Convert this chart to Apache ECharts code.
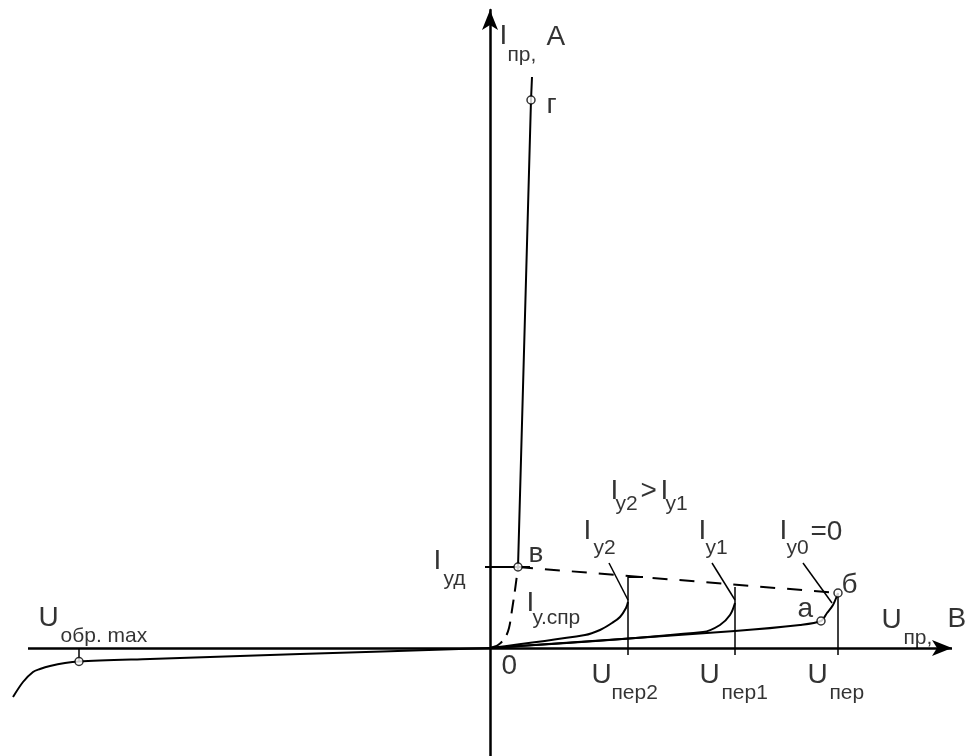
<!DOCTYPE html>
<html>
<head>
<meta charset="utf-8">
<script src="https://cdn.jsdelivr.net/npm/echarts@6/dist/echarts.min.js"></script>
<style>
html, body { margin: 0; padding: 0; background: #fff; }
#chart { width: 967px; height: 756px; }
</style>
</head>
<body>
<div id="chart"></div>
<script>
// ВАХ тиристора, schematic units (origin at the axes crossing)
const reverseBranch = [[0, 0], [-190, -6], [-340, -11], [-411, -13.5], [-425, -15], [-440, -18], [-450, -21], [-457, -24], [-467, -34], [-477, -49]];
const offState = [[0, 0], [245, 17], [310, 23], [331, 27], [337, 35], [343, 43], [348, 55]];
const ctrl1 = [[0, 0], [213, 16], [230, 23], [240, 33], [245, 45]];
const ctrl2 = [[0, 0], [95, 13], [110, 18], [122, 25], [130, 31], [136, 40], [138, 46]];
const onState = [[28, 81], [41, 548], [42, 571]];
const switchPath = [[0, 0], [8, 3], [15, 10], [19, 20], [22, 38], [25, 58], [28, 81]];
const holdLine = [[28, 81], [348, 55]];
const holdLevel = [[-5, 81], [40, 81]];
const perTicks = [[138, 71], [245, 61], [348, 55]];
const reverseTick = [[-411, 0], [-411, -13.5]];
const leaders = [[[119, 85], [138, 48]], [[222, 85], [245, 48]], [[313, 85], [342, 45]]];
const dots = [[41, 548], [28, 81], [348, 55], [331, 27], [-411, -13.5]];
const uAxisSpan = [-462, 462];

// text pieces: [text, x, y, kind]  kind m = main, s = subscript
const notes = [
  ['I', 10, 611, 'm'], ['пр,', 18, 592, 's'], ['A', 57, 610, 'm'],
  ['г', 57, 542, 'm'],
  ['I', -56, 86, 'm'], ['уд', -46, 68, 's'],
  ['в', 39, 93, 'm'],
  ['I', 37, 44, 'm'], ['у.спр', 43, 29, 's'],
  ['I', 121, 156, 'm'], ['у2', 126, 143, 's'], ['>', 151, 156, 'm'], ['I', 171, 156, 'm'], ['у1', 176, 143, 's'],
  ['I', 94, 116, 'm'], ['у2', 104, 99, 's'],
  ['I', 209, 116, 'm'], ['у1', 216, 99, 's'],
  ['I', 290, 116, 'm'], ['у0', 297, 99, 's'], ['=0', 321, 115, 'm'],
  ['б', 352, 62, 'm'],
  ['а', 308, 38, 'm'],
  ['U', 392, 27, 'm'], ['пр,', 414, 9, 's'], ['В', 458, 28, 'm'],
  ['0', 12, -19, 'm'],
  ['U', 102, -28, 'm'], ['пер2', 122, -46, 's'],
  ['U', 210, -28, 'm'], ['пер1', 232, -46, 's'],
  ['U', 318, -28, 'm'], ['пер', 340, -46, 's'],
  ['U', -451, 29, 'm'], ['обр. max', -429, 11, 's']
];

const chart = echarts.init(document.getElementById('chart'));
const font = '"Liberation Sans", Arial, sans-serif';

function curve(data, width, smooth, type) {
  return {
    type: 'line', data: data, symbol: 'none', smooth: smooth || false, clip: false,
    lineStyle: { color: '#000', width: width, type: type || 'solid' },
    silent: true
  };
}

const reverse = curve(reverseBranch, 2, 0.3);
// horizontal axis with its arrow
reverse.markLine = {
  silent: true, symbol: ['none', 'arrow'], symbolSize: [12, 20], label: { show: false },
  lineStyle: { color: '#000', width: 2.5, type: 'solid' },
  data: [[{ coord: [uAxisSpan[0], 0] }, { coord: [uAxisSpan[1], 0] }]]
};

const series = [
  reverse,
  curve(offState, 2, 0.3),
  curve(ctrl1, 2, 0.35),
  curve(ctrl2, 2, 0.35),
  curve(onState, 2),
  curve(switchPath, 2, 0.3, [14, 8]),
  curve(holdLine, 2, false, [15, 12]),
  curve(holdLevel, 2),
  curve([[138, 71], [153, 71]], 2),
  curve(reverseTick, 1.5)
];
perTicks.forEach(p => series.push(curve([[p[0], -7], p], 1.5)));
leaders.forEach(l => series.push(curve(l, 1.5)));

series.push({
  type: 'scatter', data: dots, symbol: 'circle', symbolSize: 8, clip: false, z: 5,
  itemStyle: { color: '#fff', borderColor: '#000', borderWidth: 1.5 }
});

series.push({
  type: 'scatter', symbolSize: 1, clip: false, z: 6,
  itemStyle: { color: 'rgba(0,0,0,0)' },
  data: notes.map(n => ({
    value: [n[1], n[2]],
    label: {
      show: true, formatter: n[0], position: [0, 0], align: 'left', verticalAlign: 'middle',
      fontSize: n[3] === 'm' ? 28 : 21, fontFamily: font, color: '#000'
    }
  }))
});

chart.setOption({
  animation: false,
  backgroundColor: '#fff',
  grid: { left: 0, right: 0, top: 10, bottom: 0 },
  xAxis: {
    type: 'value', min: -490, max: 477,
    axisLine: { show: false },
    axisTick: { show: false }, axisLabel: { show: false }, splitLine: { show: false }
  },
  yAxis: {
    type: 'value', min: -108, max: 638,
    axisLine: { onZero: true, symbol: ['none', 'arrow'], symbolSize: [12, 20], lineStyle: { color: '#000', width: 2.5 } },
    axisTick: { show: false }, axisLabel: { show: false }, splitLine: { show: false }
  },
  series: series
});
</script>
</body>
</html>
